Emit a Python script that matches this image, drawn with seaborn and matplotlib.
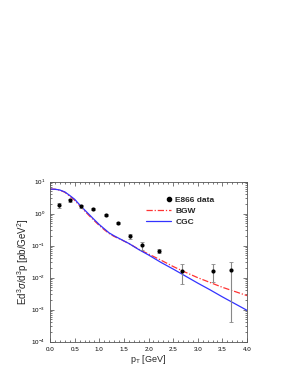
import numpy as np
import pandas as pd
import matplotlib
matplotlib.use("Agg")
import matplotlib.pyplot as plt
import seaborn as sns
from matplotlib.lines import Line2D
from matplotlib.legend_handler import HandlerBase
from matplotlib.ticker import MultipleLocator, LogLocator, NullFormatter

# ---- data ----
data_pt = [0.19, 0.41, 0.63, 0.88, 1.13, 1.37, 1.62, 1.87, 2.21, 2.67, 3.30, 3.67]
data_y = [1.88, 2.6, 1.7, 1.38, 0.90, 0.51, 0.20, 0.105, 0.068, 0.0165, 0.0165, 0.017]
data_lo = [1.55, 2.4, 1.55, 1.30, 0.85, 0.47, 0.166, 0.074, 0.059, 0.0063, 0.0071, 0.00042]
data_hi = [2.24, 2.8, 1.85, 1.46, 0.95, 0.55, 0.23, 0.135, 0.079, 0.027, 0.027, 0.032]

curve_pt = [0.0, 0.1, 0.2, 0.3, 0.4, 0.5, 0.6, 0.7, 0.8, 0.9, 1.0, 1.1, 1.2, 1.3, 1.4,
            1.6, 1.8, 2.0, 2.25, 2.5, 2.75, 3.0, 3.25, 3.5, 3.75, 4.0]
cgc_log = [0.77, 0.765, 0.74, 0.68, 0.57, 0.45, 0.28, 0.12, -0.035, -0.19, -0.34, -0.47,
           -0.60, -0.69, -0.77, -0.93, -1.12, -1.29, -1.52, -1.73, -1.95, -2.17, -2.38,
           -2.60, -2.81, -3.02]
bgw_log = [0.77, 0.765, 0.735, 0.67, 0.55, 0.42, 0.25, 0.09, -0.07, -0.22, -0.37, -0.50,
           -0.62, -0.71, -0.78, -0.93, -1.11, -1.26, -1.45, -1.65, -1.83, -2.00, -2.15,
           -2.30, -2.43, -2.56]
cgc = [10 ** v for v in cgc_log]
bgw = [10 ** v for v in bgw_log]

sns.set_theme(style="ticks")
plt.rcParams['font.family'] = ['Liberation Sans', 'DejaVu Sans']
plt.rcParams['mathtext.fontset'] = 'custom'
plt.rcParams['mathtext.rm'] = 'Liberation Sans'
plt.rcParams['mathtext.it'] = 'Liberation Sans:italic'
plt.rcParams['mathtext.bf'] = 'Liberation Sans:bold'

fig = plt.figure(figsize=(2.98, 3.85), dpi=100)
ax = fig.add_axes([0.168, 0.1125, 0.661, 0.4155])

curves = pd.DataFrame({
    "pt": curve_pt * 2,
    "val": bgw + cgc,
    "model": ["BGW"] * len(curve_pt) + ["CGC"] * len(curve_pt),
})

red_ls = (0, (5, 1.5, 1, 1.5))
sns.lineplot(data=curves[curves.model == "BGW"], x="pt", y="val", ax=ax,
             color="#ff3333", lw=0.9, linestyle=red_ls)
sns.lineplot(data=curves[curves.model == "CGC"], x="pt", y="val", ax=ax,
             color="#3333ff", lw=0.9)

dy = np.array(data_y)
yerr = [dy - np.array(data_lo), np.array(data_hi) - dy]
ax.errorbar(data_pt, data_y, yerr=yerr, fmt="none", ecolor="#888888",
            elinewidth=0.8, capsize=1.5, capthick=0.6, zorder=3)
sns.scatterplot(x=data_pt, y=data_y, ax=ax, color="black", s=9, marker="o",
                edgecolor="black", linewidth=0, zorder=4)

ax.set_yscale("log")
ax.set_xlim(0, 4)
ax.set_ylim(1e-4, 1e1)
ax.xaxis.set_major_locator(MultipleLocator(0.5))
ax.xaxis.set_minor_locator(MultipleLocator(0.1))
ax.xaxis.set_major_formatter(matplotlib.ticker.FormatStrFormatter("%.1f"))
ax.yaxis.set_major_locator(LogLocator(base=10, numticks=10))
ax.yaxis.set_minor_locator(LogLocator(base=10, subs=np.arange(2, 10), numticks=20))
ax.yaxis.set_minor_formatter(NullFormatter())
ax.tick_params(which="both", direction="in", top=True, right=True, colors="#444444",
               labelcolor="black", labelsize=4.5, width=0.5)
ax.tick_params(which="major", length=3)
ax.tick_params(which="minor", length=1.5)
for s in ax.spines.values():
    s.set_linewidth(0.6)
    s.set_color("#555555")

ax.set_xlabel(r"p$_\mathrm{T}$ [GeV]", fontsize=6.5, labelpad=1)
ax.set_ylabel(r"Ed$^3\sigma$/d$^3$p [pb/GeV$^2$]", fontsize=7, labelpad=0)


class RightMarker(HandlerBase):
    def create_artists(self, legend, orig_handle, xdescent, ydescent, width,
                       height, fontsize, trans):
        m = Line2D([width - 0.3 * fontsize - xdescent], [height / 2 - ydescent],
                   ls="none", marker="o", color="black", markersize=3,
                   transform=trans)
        return [m]


data_handle = Line2D([], [], ls="none", marker="o", color="black", markersize=3)
handles = [
    data_handle,
    Line2D([0, 1], [0, 0], color="#ff3333", lw=0.9, linestyle=red_ls),
    Line2D([0, 1], [0, 0], color="#3333ff", lw=0.9),
]
leg = ax.legend(handles, ["E866 data", "BGW", "CGC"], loc="upper left",
                bbox_to_anchor=(0.45, 0.955), frameon=False,
                handler_map={data_handle: RightMarker()},
                prop={"size": 6, "weight": "bold"}, handlelength=3.0,
                labelspacing=0.35, handletextpad=0.5)

fig.savefig("out.png", dpi=100)
